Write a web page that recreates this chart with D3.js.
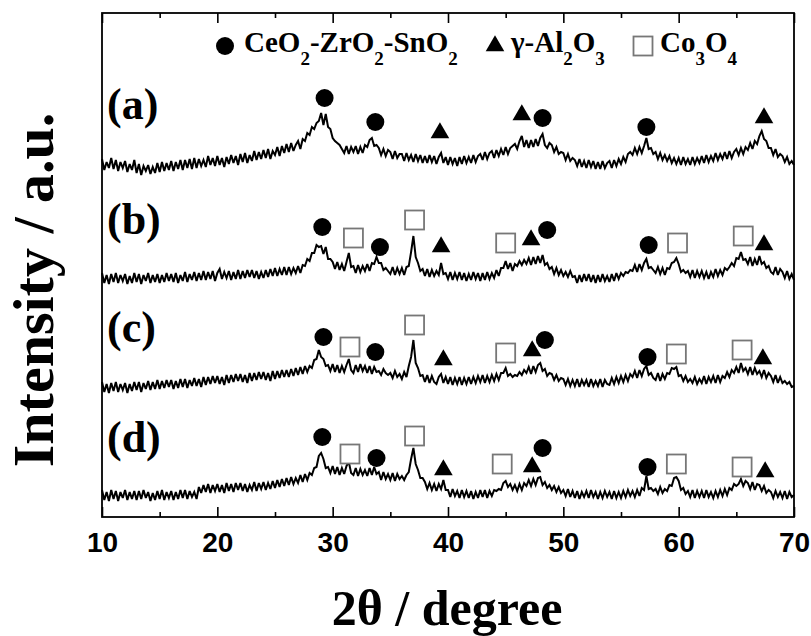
<!DOCTYPE html>
<html>
<head>
<meta charset="utf-8">
<script src="https://cdn.jsdelivr.net/npm/d3@7/dist/d3.min.js"></script>
<style>
  body { margin: 0; background: #fff; }
  svg { display: block; }
</style>
</head>
<body>
<svg id="chart" width="811" height="636"></svg>
<script>
// XRD patterns of four catalysts, 2θ from 10° to 70° in 0.2° steps
const thetaStart = 10;
const thetaStep = 0.2;
const xTicksMajor = [10, 20, 30, 40, 50, 60, 70];
const xTicksMinor = [15, 25, 35, 45, 55, 65];

const sampleLabels = ["(a)", "(b)", "(c)", "(d)"];
// vertical stacking offset of each pattern (a.u.)
const sampleOffsets = [330, 215, 105, 0];
// height of each sample label (a.u., above its own offset)
const labelHeights = [79, 79, 81, 76];

const intensityA = [
  28,17,25,19,29, 18,27,16,25,19, 26,15,23,17,27, 14,23,12,21,16, 22,13,20,14,24,
  15,25,16,24,17, 26,16,25,18,27, 17,27,19,28,18, 29,19,28,21,27, 20,31,22,29,21,
  31,22,29,20,30, 23,32,24,31,22, 33,25,34,24,32, 26,36,27,35,28, 37,29,38,28,36,
  32,40,31,41,34, 43,35,44,36,42, 46,38,48,46,54, 52,60,58,64,66, 74,62,73,60,58,
  49,46,44,42,38, 34,41,33,40,35, 41,33,40,34,42, 40,47,49,41,42, 39,32,38,31,37,
  35,28,36,29,33, 33,26,34,27,32, 25,33,26,32,24, 31,24,32,25,31, 23,30,34,24,30,
  22,30,23,29,21, 30,23,31,24,30, 24,32,25,31,33, 27,35,28,34,36, 29,37,31,38,32,
  40,33,39,41,43, 38,46,51,40,47, 39,47,40,48,41, 49,53,42,39,44, 42,35,40,33,35,
  34,27,33,26,29, 27,21,28,20,26, 19,27,20,26,18, 25,18,26,19,24, 26,19,27,21,28,
  23,30,25,33,35, 32,39,33,40,34, 41,49,38,39,33, 35,28,34,27,32, 26,31,24,29,23,
  29,22,30,23,28, 22,30,23,29,24, 31,24,32,25,31, 26,34,27,33,28, 35,28,36,29,35,
  38,32,39,33,40, 37,44,38,46,43, 51,56,48,46,39, 39,32,38,30,33, 31,25,30,23,26,
  22
];

const intensityB = [
  29,19,27,18,28, 20,29,19,27,21, 28,18,26,19,29, 20,28,18,27,21, 29,19,27,20,28,
  19,27,20,29,21, 28,20,29,19,27, 21,30,20,28,22, 30,21,29,22,31, 22,30,23,31,21,
  29,33,23,30,24, 31,22,30,23,32, 23,31,24,32,25, 32,24,31,23,30, 24,32,25,33,26,
  34,26,33,27,35, 27,35,28,34,29, 36,29,37,36,43, 41,49,49,57,55, 56,48,55,43,43,
  40,33,40,32,38, 31,40,49,35,36, 29,37,30,36,31, 38,31,39,38,45, 39,39,32,34,31,
  28,35,27,34,28, 34,27,35,36,50, 66,45,39,31,33, 26,33,25,32,26, 31,27,39,28,29,
  23,30,22,29,23, 30,22,29,21,28, 22,30,23,29,21, 29,22,30,23,29, 24,32,26,34,34,
  41,33,39,31,38, 36,41,37,42,38, 44,37,45,38,46, 39,47,37,39,33, 35,28,34,27,32,
  26,30,25,31,25, 26,19,27,20,28, 21,28,20,27,19, 27,20,28,21,26, 20,28,21,29,23,
  29,26,30,29,32, 31,37,30,38,32, 39,43,34,35,32, 29,35,28,34,27, 34,33,39,40,44,
  38,30,32,29,31, 25,32,24,31,25, 31,24,30,23,30, 25,33,26,32,27, 34,32,35,39,36,
  44,43,50,42,43, 38,45,36,43,37, 46,38,40,34,36, 30,28,35,27,33, 30,24,31,23,28,
  22
];

const intensityC = [
  30,20,28,19,29, 21,30,20,28,22, 29,19,28,21,30, 22,30,20,29,23, 31,22,30,23,32,
  23,31,24,32,25, 32,23,31,24,33, 25,33,24,32,26, 34,26,33,25,35, 27,35,28,36,29,
  36,28,35,27,37, 29,37,30,38,31, 38,30,37,29,39, 31,39,32,40,33, 40,32,39,31,41,
  33,41,34,42,35, 42,35,43,36,44, 37,45,38,46,40, 46,44,52,53,62, 55,53,46,47,41,
  48,40,47,39,46, 40,47,53,42,39, 47,40,48,41,46, 39,46,38,45,40, 41,37,43,39,37,
  39,34,41,35,38, 33,40,35,46,55, 72,49,44,36,37, 30,37,29,36,30, 28,35,38,29,35,
  28,35,27,34,28, 35,27,34,28,35, 28,35,29,36,30, 37,29,36,30,37, 31,38,32,39,39,
  44,36,38,35,37, 36,40,37,42,39, 45,38,46,40,47, 49,41,43,36,39, 38,32,37,31,34,
  33,27,33,26,32, 26,33,25,32,27, 32,25,33,26,31, 26,33,25,32,28, 27,34,28,35,29,
  36,30,37,31,38, 35,41,34,42,36, 43,46,37,39,34, 32,39,31,38,33, 39,38,44,43,45,
  36,37,31,36,30, 33,29,35,28,33, 29,36,28,35,30, 36,29,37,30,36, 34,40,35,42,39,
  45,39,49,41,44, 38,45,37,44,38, 41,35,42,34,39, 36,30,37,29,35, 29,31,28,30,25,
  26
];

const intensityD = [
  27,17,25,16,27, 18,26,16,25,19, 27,17,25,18,26, 17,26,18,27,19, 25,16,24,17,26,
  18,27,17,25,19, 26,17,25,18,27, 19,27,18,26,20, 25,18,30,24,32, 25,33,24,32,26,
  33,25,32,24,34, 26,33,25,34,27, 34,26,33,25,32, 27,35,26,34,28, 35,27,34,28,36,
  29,37,30,38,31, 39,32,40,33,39, 34,42,35,43,37, 44,42,49,50,61, 64,58,49,50,44,
  51,43,50,42,49, 43,51,55,44,42, 49,41,48,42,47, 41,49,42,50,43, 45,37,45,38,43,
  37,44,36,43,38, 41,37,42,45,58, 69,53,47,39,39, 35,28,34,27,33, 26,33,28,37,27,
  27,20,28,21,26, 19,27,20,26,19, 26,18,25,19,27, 20,27,19,26,21, 27,26,28,27,34,
  36,30,33,27,32, 26,33,27,34,31, 37,31,38,32,39, 40,32,35,29,32, 27,31,25,30,24,
  27,21,28,20,26, 19,26,18,25,20, 26,19,27,20,25, 18,25,19,26,20, 25,18,26,19,25,
  19,26,20,27,21, 26,20,27,21,29, 27,41,28,29,26, 28,23,30,24,28, 26,32,31,39,40,
  36,27,29,23,26, 20,27,19,26,20, 26,19,27,20,25, 19,26,20,27,21, 28,22,29,27,33,
  31,33,38,31,36, 34,28,35,27,33, 32,26,31,24,27, 25,19,26,20,25, 19,26,18,25,20,
  22
];

// phase markers above the reflections: phase, 2θ, height (a.u., same units as the pattern)
const peaksA = [
  ["CZS", 29.3, 89], ["CZS", 33.7, 65], ["Al", 39.3, 54], ["Al", 46.4, 72],
  ["CZS", 48.2, 69], ["CZS", 57.2, 60], ["Al", 67.4, 69]
];
const peaksB = [
  ["CZS", 29.1, 75], ["Co", 31.8, 64], ["CZS", 34.1, 55], ["Co", 37.1, 82],
  ["Al", 39.4, 55], ["Co", 45.0, 59], ["Al", 47.2, 62], ["CZS", 48.6, 72],
  ["CZS", 57.4, 57], ["Co", 59.9, 59], ["Co", 65.6, 66], ["Al", 67.4, 57]
];
const peaksC = [
  ["CZS", 29.2, 75], ["Co", 31.5, 65], ["CZS", 33.7, 60], ["Co", 37.1, 87],
  ["Al", 39.6, 52], ["Co", 45.0, 59], ["Al", 47.3, 61], ["CZS", 48.4, 72],
  ["CZS", 57.3, 55], ["Co", 59.8, 58], ["Co", 65.5, 62], ["Al", 67.3, 53]
];
const peaksD = [
  ["CZS", 29.1, 80], ["Co", 31.5, 63], ["CZS", 33.8, 59], ["Co", 37.1, 81],
  ["Al", 39.6, 47], ["Co", 44.7, 53], ["Al", 47.3, 50], ["CZS", 48.2, 69],
  ["CZS", 57.3, 50], ["Co", 59.8, 53], ["Co", 65.5, 50], ["Al", 67.5, 45]
];

const patterns = [intensityA, intensityB, intensityC, intensityD];
const peakSets = [peaksA, peaksB, peaksC, peaksD];

// ---- layout ----
const svg = d3.select("#chart");
const plot = { left: 102, right: 794, top: 13, bottom: 517 };
const x = d3.scaleLinear().domain([10, 70]).range([plot.left, plot.right]);
const y = d3.scaleLinear().domain([0, 504]).range([plot.bottom, plot.top]);

const serif = "'Liberation Serif', 'Times New Roman', Times, serif";
const sans = "'Liberation Sans', Arial, Helvetica, sans-serif";

// patterns
const line = d3.line()
  .x(d => x(d.theta))
  .y(d => y(d.v));

patterns.forEach((vals, i) => {
  const pts = vals.map((v, k) => ({ theta: thetaStart + k * thetaStep, v: v + sampleOffsets[i] }));
  svg.append("path")
    .datum(pts)
    .attr("d", line)
    .attr("fill", "none")
    .attr("stroke", "#000")
    .attr("stroke-width", 2)
    .attr("stroke-linejoin", "miter")
    .attr("stroke-miterlimit", 3);
});

// phase marker drawing
const triPath = d3.symbol().type(d3.symbolTriangle).size(150);
function drawMarker(g, phase, cx, cy) {
  if (phase === "CZS") {
    g.append("circle").attr("cx", cx).attr("cy", cy).attr("r", 9).attr("fill", "#000");
  } else if (phase === "Al") {
    g.append("path").attr("d", triPath()).attr("transform", `translate(${cx},${cy})`).attr("fill", "#000");
  } else {
    g.append("rect").attr("x", cx - 9.5).attr("y", cy - 9.5).attr("width", 19).attr("height", 19)
      .attr("fill", "#fff").attr("stroke", "#777").attr("stroke-width", 1.8);
  }
}

const markerLayer = svg.append("g");
peakSets.forEach((set, i) => {
  set.forEach(([phase, theta, h]) => {
    drawMarker(markerLayer, phase, x(theta), y(h + sampleOffsets[i]));
  });
});

// sample labels
svg.append("g").selectAll("text")
  .data(sampleLabels)
  .join("text")
  .attr("x", 107)
  .attr("y", (d, i) => y(labelHeights[i] + sampleOffsets[i]))
  .attr("dy", "0.26em")
  .attr("font-family", serif)
  .attr("font-weight", "bold")
  .attr("font-size", 44)
  .text(d => d);

// axes: ticks on top and bottom pointing inward
const gBottom = svg.append("g").attr("transform", `translate(0,${plot.bottom})`);
gBottom.call(d3.axisBottom(x).tickValues(xTicksMajor).tickSize(-10).tickPadding(15).tickFormat(d3.format("d")));
const gBottomMinor = svg.append("g").attr("transform", `translate(0,${plot.bottom})`);
gBottomMinor.call(d3.axisBottom(x).tickValues(xTicksMinor).tickSize(-5).tickFormat(""));
const gTop = svg.append("g").attr("transform", `translate(0,${plot.top})`);
gTop.call(d3.axisTop(x).tickValues(xTicksMajor).tickSize(-10).tickFormat(""));
const gTopMinor = svg.append("g").attr("transform", `translate(0,${plot.top})`);
gTopMinor.call(d3.axisTop(x).tickValues(xTicksMinor).tickSize(-5).tickFormat(""));

[gBottom, gBottomMinor, gTop, gTopMinor].forEach(g => {
  g.select(".domain").remove();
  g.selectAll(".tick line").attr("stroke", "#000").attr("stroke-width", 1.6);
});
gBottom.selectAll(".tick text")
  .attr("font-family", sans)
  .attr("font-weight", "bold")
  .attr("font-size", 28)
  .attr("fill", "#000");

// frame
svg.append("rect")
  .attr("x", plot.left).attr("y", plot.top)
  .attr("width", plot.right - plot.left).attr("height", plot.bottom - plot.top)
  .attr("fill", "none").attr("stroke", "#000").attr("stroke-width", 1.8);

// axis titles
svg.append("text")
  .attr("x", 447).attr("y", 625)
  .attr("text-anchor", "middle")
  .attr("font-family", serif).attr("font-weight", "bold").attr("font-size", 50)
  .text("2θ / degree");

svg.append("text")
  .attr("transform", "translate(53,290) rotate(-90)")
  .attr("text-anchor", "middle")
  .attr("font-family", serif).attr("font-weight", "bold").attr("font-size", 58)
  .text("Intensity / a.u.");

// legend
const legendItems = [
  { phase: "CZS", sx: 225, tx: 244, parts: [["CeO", 0], ["2", 1], ["-ZrO", 0], ["2", 1], ["-SnO", 0], ["2", 1]] },
  { phase: "Al", sx: 495, tx: 511, parts: [["γ-Al", 0], ["2", 1], ["O", 0], ["3", 1]] },
  { phase: "Co", sx: 643, tx: 660, parts: [["Co", 0], ["3", 1], ["O", 0], ["4", 1]] }
];
const legend = svg.append("g");
legendItems.forEach(item => {
  drawMarker(legend, item.phase, item.sx, 46);
  const t = legend.append("text")
    .attr("x", item.tx).attr("y", 52)
    .attr("font-family", serif).attr("font-weight", "bold").attr("font-size", 29);
  let sub = false;
  item.parts.forEach(([str, isSub]) => {
    const ts = t.append("tspan").text(str);
    if (isSub && !sub) { ts.attr("font-size", 19).attr("dy", 13); sub = true; }
    else if (!isSub && sub) { ts.attr("dy", -13); sub = false; }
    else if (isSub) { ts.attr("font-size", 19); }
  });
});
</script>
</body>
</html>
